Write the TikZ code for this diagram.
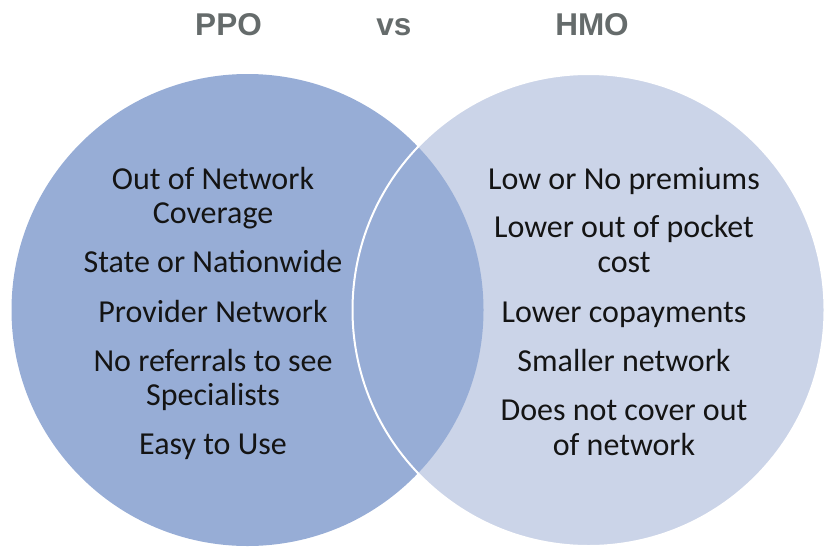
\documentclass[tikz,border=0pt]{standalone}
\usepackage{fontspec}
\setmainfont{Carlito}
\newfontfamily\headfont{Liberation Sans}
\definecolor{ppoblue}{HTML}{97ADD6}
\definecolor{hmoblue}{HTML}{CBD4E8}
\definecolor{headgray}{HTML}{656B6B}
\definecolor{itemtext}{HTML}{141414}
\begin{document}
\begin{tikzpicture}[x=1pt,y=-1pt,
  heading/.style={font=\headfont\bfseries\fontsize{31.5}{36}\selectfont, text=headgray, anchor=base, inner sep=0pt},
  item/.style={font=\fontsize{32}{35}\selectfont, text=itemtext, anchor=base, inner sep=0pt}]
  \useasboundingbox (0,0) rectangle (827,546);
  % circle centres
  \coordinate (ppoc) at (247.5,310);
  \coordinate (hmoc) at (588.5,310);
  % the two sets
  \fill[ppoblue] (ppoc) circle[radius=236pt];
  \fill[hmoblue] (hmoc) circle[radius=236pt];
  % overlap
  \begin{scope}
    \clip (hmoc) circle[radius=236pt];
    \fill[ppoblue] (ppoc) circle[radius=236pt];
  \end{scope}
  \draw[white, line width=2pt] (hmoc) circle[radius=236pt];
  % headings
  \node[heading] (ppo) at (228.5,35) {PPO};
  \node[heading] (vs) at (394,35) {vs};
  \node[heading] (hmo) at (592,35) {HMO};
  % PPO features
  \node[item] (l1) at (213,189) {Out of Network};
  \node[item] (l2) at (213,223) {Coverage};
  \node[item] (l3) at (213,272) {State or Nationwide};
  \node[item] (l4) at (213,322) {Provider Network};
  \node[item] (l5) at (213,371) {No referrals to see};
  \node[item] (l6) at (213,405) {Specialists};
  \node[item] (l7) at (213,454) {Easy to Use};
  % HMO features
  \node[item] (r1) at (624,189) {Low or No premiums};
  \node[item] (r2) at (624,237) {Lower out of pocket};
  \node[item] (r3) at (624,272) {cost};
  \node[item] (r4) at (624,322) {Lower copayments};
  \node[item] (r5) at (624,371) {Smaller network};
  \node[item] (r6) at (624,420) {Does not cover out};
  \node[item] (r7) at (624,455) {of network};
\end{tikzpicture}
\end{document}
